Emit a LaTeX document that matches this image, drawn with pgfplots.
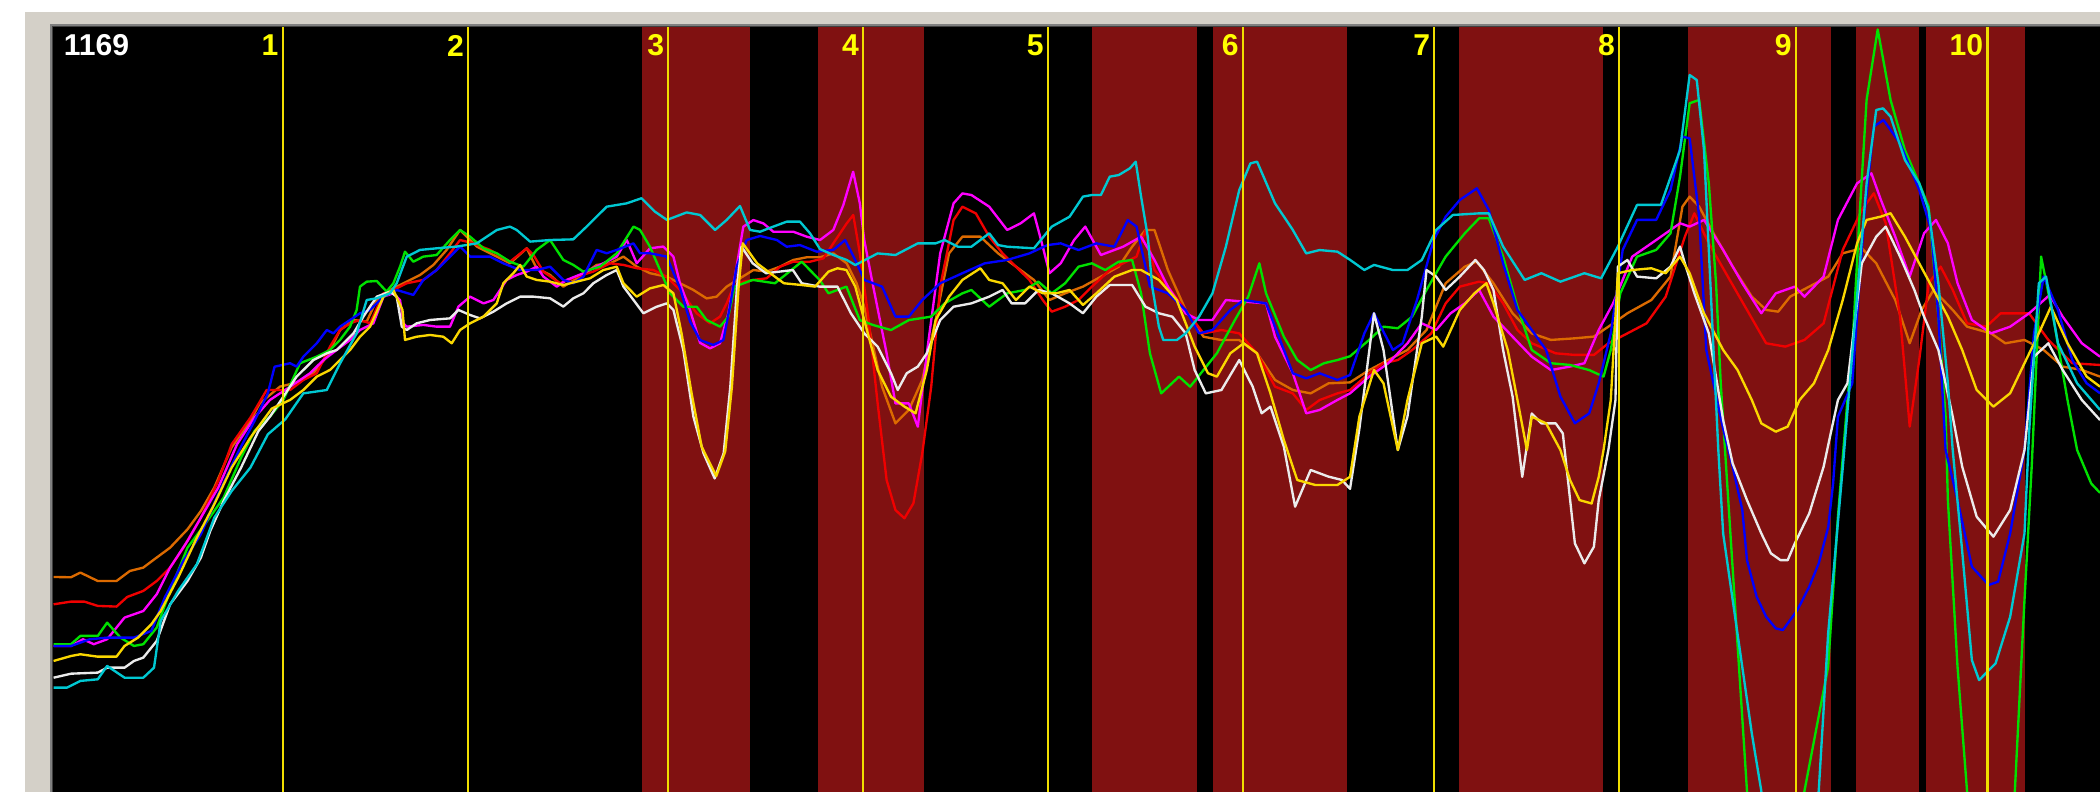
\documentclass[border=0pt]{standalone}
\usepackage{pgfplots}
\pgfplotsset{compat=1.18}
\usepackage{fontspec}
\setmainfont{Liberation Sans}
\definecolor{framegray}{RGB}{212,208,200}
\definecolor{edgeA}{RGB}{128,128,128}
\definecolor{edgeB}{RGB}{64,64,64}
\definecolor{band}{RGB}{128,17,17}
\definecolor{vline}{RGB}{240,222,0}
\definecolor{lab}{RGB}{255,255,0}
\definecolor{corange}{RGB}{220,106,0}
\definecolor{cred}{RGB}{240,0,0}
\definecolor{cmag}{RGB}{255,0,255}
\definecolor{cgreen}{RGB}{0,225,0}
\definecolor{cblue}{RGB}{0,0,255}
\definecolor{cyellow}{RGB}{250,215,0}
\definecolor{cwhite}{RGB}{235,235,235}
\definecolor{ccyan}{RGB}{0,200,210}
\begin{document}
\begin{tikzpicture}
\begin{axis}[
  scale only axis, width=15.68cm, height=5.91cm,
  xmin=0, xmax=1568, ymin=0, ymax=591, y dir=reverse,
  axis lines=none, ticks=none, clip=true,
  every axis plot/.append style={line join=round},
]
% frame and background
\addplot[fill=white, draw=none] coordinates {(0,0) (1568,0) (1568,591) (0,591)} -- cycle;
\addplot[fill=framegray, draw=none] coordinates {(18.7,9.2) (1568,9.2) (1568,591) (18.7,591)} -- cycle;
\addplot[fill=edgeA, draw=none] coordinates {(37.3,17.9) (1568,17.9) (1568,591) (37.3,591)} -- cycle;
\addplot[fill=edgeB, draw=none] coordinates {(38.5,19.2) (1568,19.2) (1568,591) (38.5,591)} -- cycle;
\addplot[fill=black, draw=none] coordinates {(39.6,20.5) (1568,20.5) (1568,591) (39.6,591)} -- cycle;
% red bands
\addplot[fill=band, draw=none] coordinates {(479,20.5) (560,20.5) (560,591) (479,591)} -- cycle;
\addplot[fill=band, draw=none] coordinates {(611,20.5) (690,20.5) (690,591) (611,591)} -- cycle;
\addplot[fill=band, draw=none] coordinates {(815,20.5) (894,20.5) (894,591) (815,591)} -- cycle;
\addplot[fill=band, draw=none] coordinates {(906,20.5) (1006,20.5) (1006,591) (906,591)} -- cycle;
\addplot[fill=band, draw=none] coordinates {(1089,20.5) (1197,20.5) (1197,591) (1089,591)} -- cycle;
\addplot[fill=band, draw=none] coordinates {(1260,20.5) (1367,20.5) (1367,591) (1260,591)} -- cycle;
\addplot[fill=band, draw=none] coordinates {(1386,20.5) (1433,20.5) (1433,591) (1386,591)} -- cycle;
\addplot[fill=band, draw=none] coordinates {(1438,20.5) (1512,20.5) (1512,591) (1438,591)} -- cycle;

% orange
\addplot[corange, line width=0.5pt] coordinates {
(40,430.8) (53,431) (60,427.5) (73,433.8) (87,433.8) (97,426.3) (107,423.8) (117,416.3) (127,408.9) (140,395.2) (150,381.5) (160,364) (173,334) (187,314) (194,301.1) (209,288.7) (224,285) (234,278.7) (244,266.3) (253.9,246.4) (263.9,238.9) (273.8,240.1) (281.3,224) (291.2,216.5) (303.7,210.3) (313.6,205.3) (323.6,197.8) (333.5,186.6) (343.5,171.7) (348.5,176.7) (356,184.1) (365.9,189.1) (380.8,196.6) (393.3,185.4) (400.7,200.3) (410.7,205.3) (420.6,214) (433.1,206.5) (445.5,197.8) (455.5,196.6) (465.5,191.6) (475.4,199.1) (485.3,204) (497.8,206.6) (507.7,211.5) (517.7,216.5) (527.6,222.8) (535.1,221.5) (542.6,214) (552.5,207.8) (562.5,201.6) (572.4,202.8) (582.4,199.1) (592.3,194.1) (602.3,192.1) (612.3,192.1) (622.2,189.2) (632.2,196.6) (639.6,211.5) (645.3,229) (652,258.8) (658.6,288.7) (668.6,316.1) (678.6,306.1) (688.6,283.7) (698.6,239) (708.6,189.2) (718.6,176.7) (732,176.7) (745.3,189.2) (758.6,199.1) (772,209) (783.6,224) (795.3,219) (808.6,214) (822,206.6) (835.3,199.1) (845.3,184.2) (855.3,171.7) (862,171.7) (872,201.6) (885.3,231.5) (898.6,251.4) (912,253.9) (925.3,253.9) (938.6,263.8) (952,283.7) (965.3,291.2) (978.6,293.7) (992,286.2) (1008,285.5) (1022.3,276.3) (1036.6,268.8) (1050.9,261.3) (1065.1,246.4) (1079.4,211.5) (1093.7,199.1) (1102.6,195.3) (1115.1,211.5) (1129.4,233.9) (1143.7,248.9) (1158,253.8) (1175.9,252.6) (1190.1,251.3) (1200.9,243.9) (1215.1,233.9) (1233,224) (1247.3,206.5) (1256.2,154.3) (1261.6,146.8) (1268.7,154.3) (1279.4,174.2) (1293.7,199.1) (1308,221.5) (1318.7,231.4) (1327.7,232.7) (1336.6,221.5) (1350.9,214) (1365.1,206.5) (1375.9,189.1) (1390.1,185.4) (1400.9,196.6) (1415.1,224) (1425.9,256.3) (1434.8,231.4) (1443.7,216.5) (1458,231.4) (1468.7,243.9) (1486.6,248.9) (1497.3,256.3) (1511.6,253.8) (1525.9,261.3) (1540.1,273.7) (1554.4,276.2) (1568,281.2)
};
% red
\addplot[cred, line width=0.5pt] coordinates {
(40,451.2) (53,449.2) (63,449.2) (73,452.4) (87,452.9) (95,445.7) (107,441.2) (117,433.8) (127,423.8) (137,408.9) (150,386.5) (163,359) (173,331.7) (187,311.8) (199.1,291.2) (216.6,291.2) (226.5,283.7) (236.5,278.7) (246.4,258.8) (253.9,246.4) (261.4,241.4) (268.8,238.9) (276.3,241.4) (286.3,219) (293.7,216.5) (303.7,211.5) (316.1,209) (326,201.6) (336,189.1) (343.5,179.2) (353.5,181.7) (365.9,186.6) (380.8,195.4) (393.3,185.4) (398.3,190.4) (405.7,202.8) (418.1,211.5) (430.6,206.5) (443,202.8) (455.5,196.6) (465.5,197.8) (475.4,200.3) (487.8,201.6) (497.8,206.6) (507.7,216.5) (520.2,234) (530.1,241.4) (537.6,236.4) (542.6,226.5) (547.6,214) (555,210.3) (562.5,209) (572.4,207.8) (582.4,199.1) (592.3,195.4) (604.8,195.4) (614.8,192.9) (622.2,181.7) (632.2,166.8) (637.1,160.5) (642,189.2) (648.6,239) (655.3,301.2) (662,358.4) (668.6,380.8) (675.3,387) (682,375.8) (688.6,338.5) (695.3,288.7) (702,214) (712,164.3) (718.6,154.3) (728.6,159.3) (738.6,176.7) (748.6,189.2) (758.6,199.1) (768.6,209) (778.6,224) (785.3,232.7) (795.3,229) (805.3,224) (815.3,214) (828.6,201.6) (838.6,196.6) (848.6,191.6) (855.3,171.7) (862,201.6) (872,214) (885.3,231.5) (898.6,248.9) (912,246.4) (925.3,248.9) (938.6,263.8) (952,288.7) (965.3,293.7) (975.3,306.1) (985.3,298.7) (998.6,293.7) (1008,291.2) (1022.3,278.7) (1033,271.2) (1043.7,268.8) (1054.4,261.3) (1068.7,248.9) (1079.4,226.5) (1090,214) (1104.4,210.3) (1111.6,211.5) (1122.3,226.5) (1133,246.4) (1143.7,256.3) (1161.6,263.8) (1175.9,265) (1190.1,265) (1200.9,256.3) (1215.1,248.9) (1229.4,241.4) (1243.7,221.5) (1258,176.7) (1265.1,159.3) (1275.9,181.7) (1290.1,206.5) (1304.4,231.4) (1318.7,256.3) (1333,258.8) (1347.3,253.8) (1361.6,241.4) (1375.9,186.6) (1390.1,156.8) (1399.1,144.3) (1408,166.7) (1418.7,236.4) (1425.9,318.5) (1433,268.8) (1440.1,211.5) (1449,199.1) (1458,216.5) (1468.7,241.4) (1483,243.9) (1493.7,234) (1515.1,234) (1529.4,253.8) (1547.3,271.2) (1568,272.5)
};
% magenta
\addplot[cmag, line width=0.5pt] coordinates {
(40,482.3) (53,482.3) (62,477.3) (70,481) (80,477.3) (93,461.1) (107,456.2) (117,443.7) (127,423.8) (140,403.9) (150,386.5) (163,364) (177,331.7) (190,311.8) (201.6,298.6) (216.6,288.7) (231.5,278.7) (241.5,268.8) (251.4,261.3) (261.4,253.8) (268.8,246.4) (278.8,241.4) (286.3,221.5) (293.7,219) (298.7,224) (301.2,241.4) (303.7,243.9) (316.1,242.6) (326,243.9) (336,243.9) (342.3,228.9) (351,221.5) (361,226.5) (368.4,224) (378.3,209) (385.8,205.3) (393.3,202.8) (400.7,199.1) (405.7,206.5) (415.7,214) (423.1,209) (435.6,204) (448,197.8) (460.5,191.6) (468,179.2) (475.4,196.6) (485.3,185.4) (495.3,184.1) (502.8,191.6) (507.7,211.5) (515.2,231.4) (522.7,256) (530.1,260.1) (537.6,256.3) (543.8,234) (550,199.1) (555,169.2) (562.5,164.3) (570,166.8) (577.4,173) (592.3,173) (602.3,176.7) (612.3,179.2) (622.2,171.7) (629.7,153) (637,128.2) (642,151.8) (645.3,179.2) (652,214) (662,263.8) (668.6,301.2) (678.6,301.2) (685.3,318.6) (692,263.8) (702,189.2) (712,151.8) (718.6,144.4) (725.3,145.6) (738.6,154.3) (752,171.7) (762,166.8) (772,159.3) (778.6,184.2) (783.6,204) (792,196.6) (802,179.2) (810.3,169.2) (822,190.4) (838.6,184.2) (852,176.7) (862,194.1) (872,214) (885.3,234) (895.3,238.9) (905.3,238.9) (915.3,224) (928.6,225.2) (945.3,226.5) (952,251.4) (965.3,278.7) (975.3,308.6) (985.3,306.1) (998.6,298.6) (1008,293.7) (1022.3,281.2) (1036.6,271.2) (1050.9,256.3) (1061.6,241.4) (1072.3,246.4) (1083,234) (1093.7,226.5) (1104.4,216.5) (1115.1,236.4) (1129.4,251.4) (1143.7,266.3) (1158,276.3) (1172.3,273.7) (1183,271.2) (1193.7,246.4) (1204.4,226.5) (1218.7,191.6) (1236.6,179.2) (1254.4,166.7) (1261.6,169.2) (1272.3,164.2) (1286.6,186.6) (1300.9,211.5) (1315.1,233.9) (1325.9,219) (1340.1,214) (1347.3,221.5) (1361.6,206.5) (1372.3,164.2) (1386.6,136.9) (1397.3,129.4) (1404.4,149.3) (1415.1,176.7) (1425.9,206.5) (1436.6,174.2) (1445.5,164.2) (1454.4,181.7) (1461.6,211.5) (1472.3,238.9) (1486.6,248.9) (1500.9,243.9) (1515.1,233.9) (1530.4,220.2) (1540.1,236.4) (1554.4,256.3) (1568,266.3)
};
% green
\addplot[cgreen, line width=0.5pt] coordinates {
(40,481) (53,481) (60,474.8) (73,474.8) (80,464.9) (90,476.1) (100,482.3) (107,481) (117,468.6) (127,441.2) (140,408.9) (153,391.5) (167,371.5) (180,341.7) (190,321.8) (201.6,311) (211.6,298.6) (224,271.2) (236.5,266.3) (246.4,261.3) (253.9,253.8) (261.4,243.9) (266.3,231.4) (268.8,214) (273.8,210.3) (281.3,209.8) (288.7,217.7) (293.7,211.5) (298.7,199.1) (302.4,187.9) (308.6,195.4) (316.1,191.6) (326,190.4) (336,179.2) (343.5,171.7) (351,176.7) (361,185.4) (370.9,189.1) (380.8,195.4) (390.8,199.1) (400.7,186.6) (410.7,179.2) (420.6,194.1) (428.1,197.8) (435.6,202.8) (448,199.1) (460.5,189.1) (473,169.2) (477.9,171.7) (485.3,184.2) (492.8,201.6) (500.3,219) (510.2,229) (520.2,229) (527.6,238.9) (537.6,243.9) (543.8,236.4) (548.6,214) (562,209) (578.6,211.5) (598.6,195.4) (612,209) (618.6,219) (632,214) (642,239) (652,242.7) (665.3,246.4) (678.6,239) (695.3,236.4) (705.3,226.5) (718.6,219) (725.3,216.5) (738.6,229) (752,219) (765.3,216.5) (775.3,210.3) (785.3,219) (795.3,211.5) (805.3,199.1) (815.3,196.6) (825.3,201.6) (835.3,195.4) (845.3,194.1) (852,219) (858.6,263.8) (867,293.7) (880.3,281.2) (888.6,288.7) (898.6,276.3) (908.6,263.8) (922,239) (932,221.5) (940.3,196.6) (945.3,219) (958.6,251.4) (968.6,268.8) (978.6,276.3) (988.6,271.2) (998.6,268.8) (1008,266) (1022.3,253.8) (1033,243.9) (1043.7,245.1) (1054.4,236.4) (1065.1,216.5) (1079.4,191.6) (1093.7,174.2) (1104.4,163) (1111.6,163) (1122.3,191.6) (1133,229) (1143.7,261.3) (1158,271.2) (1172.3,272.5) (1186.6,276.3) (1197.3,281.2) (1202.7,261.3) (1209.8,219) (1222.3,191.6) (1236.6,186.6) (1247.3,174.2) (1254.4,131.9) (1261.6,77.1) (1268.7,74.6) (1275.9,136.9) (1281.3,211.5) (1284.8,286.2) (1304.4,590.6) (1310,640) (1340,640) (1347.3,590.6) (1365,497.8) (1372.3,385.8) (1379.4,298.7) (1383,261.3) (1388.4,161.8) (1393.7,74.6) (1402,22) (1411.6,74.6) (1422.3,112) (1433,136.9) (1440,154.3) (1447.3,236.4) (1452.7,311) (1454.4,373.4) (1461.6,497.8) (1468.7,590.6) (1475,640) (1500,640) (1504.4,590.6) (1511.6,448) (1517,348) (1524,191.6) (1533,236.4) (1543.7,298.6) (1550.9,336) (1561.4,361) (1568,368)
};
% blue
\addplot[cblue, line width=0.5pt] coordinates {
(40,482.3) (53,482.3) (67,477.3) (80,476.1) (100,476.1) (113,471.1) (123,446.2) (137,418.8) (150,398.9) (163,369) (177,339.2) (190,314.3) (200,293.7) (205,273.8) (216.6,271.2) (221.5,273.7) (226.5,266.3) (236.5,256.3) (244,246.4) (249,248.9) (253.9,243.9) (261.4,238.9) (268.8,233.9) (276.3,231.4) (286.3,221.5) (296.2,216.5) (308.6,220.2) (316.1,209) (326,201.6) (336,191.6) (343.5,184.1) (351,191.6) (365.9,191.6) (375.8,196.6) (388.3,201.6) (400.7,201.6) (410.7,199.1) (420.6,209) (428.1,211.5) (435.6,206.5) (445.5,186.6) (453,189.1) (460.5,186.6) (473,181.7) (477.9,189.1) (485.3,189.1) (497.8,191.6) (507.7,215) (515.2,240) (522.7,253.9) (532.6,257.6) (540.1,253.9) (545,229) (550,199.1) (557.5,179.2) (567.5,176.2) (580,179.2) (587.4,184.2) (597.3,183) (609.8,187.9) (622.2,186.6) (631,179.2) (638.6,194.1) (645.3,209) (658.6,214) (668.6,236.4) (678.6,236.4) (688.6,224) (702,211.5) (718.6,204) (735.3,196.6) (752,194.1) (768.6,189.2) (782,183) (792,181.7) (805.3,186.7) (818.6,181.7) (832,184.2) (842,164.3) (848.6,169.2) (858.6,214) (872,219) (885.3,231.5) (895.3,248.9) (905.3,246.4) (918.6,231.5) (928.6,224) (945.3,226.5) (952,243.9) (965.3,278.7) (975.3,282.5) (985.3,278.7) (998.6,283.7) (1008,280) (1018.7,248.9) (1025.9,233.9) (1040,261.3) (1047.3,256.3) (1058,224) (1070.5,179.2) (1079.4,161.8) (1090,149.3) (1102.7,140.6) (1111.6,156.8) (1122.3,196.6) (1133,231.4) (1143.7,246.4) (1154.4,261.3) (1165.1,296.1) (1175.9,316) (1186.6,308.6) (1193.7,286.2) (1202.7,248.9) (1211.6,186.6) (1222.3,164.2) (1236.6,164.2) (1247.3,141.8) (1256.2,102) (1261.6,103.3) (1268.7,161.8) (1274,261.3) (1286.6,320) (1293.7,348.5) (1300.9,380.8) (1304.4,418.2) (1311.6,445.5) (1318.7,460.5) (1325.9,469.2) (1331.2,470.4) (1336.6,463) (1342,455.5) (1350.9,438) (1358,420.6) (1365.1,393.3) (1368.7,360.9) (1372.3,311.1) (1383,286.2) (1391.9,161.8) (1399.1,94.5) (1406.3,89.6) (1418.7,107) (1433,141.8) (1441.9,171.7) (1447.3,236.4) (1452.7,336) (1461.6,373.4) (1472.3,423.1) (1484.8,436.8) (1491.9,434.3) (1500.9,398.3) (1511.6,336) (1518.7,248.9) (1525.9,206.5) (1536.6,231.4) (1547.3,268.8) (1558,286.2) (1568,293.6)
};
% white
\addplot[cwhite, line width=0.5pt] coordinates {
(40,506) (53,503) (73,502.2) (80,498.5) (93,498.5) (100,493.5) (107,491) (117,478.6) (127,451.2) (140,433.8) (150,416.3) (157,396.4) (167,374) (180,349.1) (193,321.8) (201.6,311) (211.6,296.1) (221.5,281.2) (234,268.8) (244,263.8) (251.4,261.3) (258.9,253.8) (263.9,248.9) (271.3,236.4) (281.3,221.5) (291.2,217.7) (296.2,221.5) (300,243.9) (303.7,246.4) (311.1,241.4) (321.1,238.9) (336,237.7) (342.3,231.4) (351,235.2) (358.4,237.7) (368.4,232.7) (378.3,226.5) (388.3,221.5) (398.3,221.5) (410.7,222.7) (420.6,228.9) (428.1,222.7) (435.6,219) (443,211.5) (453,205.3) (460.5,201.6) (465.5,214) (473,224) (480.4,233.9) (490.3,229) (497.8,226.5) (502.8,231.4) (510.2,261.3) (517.7,311) (525.3,338.5) (533.6,357.2) (540.3,338.5) (545.3,288.7) (550.3,214) (553.6,184.2) (562,196.6) (572,204) (582,202.8) (592,201.6) (598.6,211.5) (612,214) (625.3,214) (635.3,233.9) (645.3,248.9) (655.3,258.8) (665.3,278.7) (670.3,291.2) (677,278.7) (685.3,273.7) (692,263.8) (702,239) (712,229) (725.3,226.5) (738.6,221.5) (748.6,216.5) (755.3,226.5) (765.3,226.5) (775.3,216.5) (785.3,219) (798.6,226.5) (808.6,233.9) (818.6,221.5) (828.6,212.8) (845.3,212.8) (855.3,229) (865.3,233.9) (875.3,236.4) (885.3,248.9) (892,276.3) (900.3,293.7) (912,291.2) (925.3,268.8) (935.3,288.7) (942,308.6) (948.6,303.6) (958.6,333.5) (967,378.3) (978.6,350.9) (992,355.9) (1002,358.4) (1008,365) (1015,320) (1025.9,233.9) (1033,261.3) (1043.7,336) (1050.9,311) (1061.6,236.4) (1065.1,201.6) (1072.3,206.5) (1079.4,216.5) (1090,206.5) (1101.6,194.1) (1108,201.6) (1115.1,216.5) (1122.3,261.3) (1129.4,296.1) (1136.6,356) (1143.7,308.7) (1150.9,316.1) (1161.6,316.1) (1166.9,323.6) (1175.9,405.7) (1183,420.6) (1190.1,408.2) (1193.7,373.4) (1200.9,336) (1206.2,298.7) (1208,199.1) (1215.1,194.1) (1222.3,206.5) (1236.6,207.8) (1247.3,199.1) (1254.4,184.1) (1258,196.6) (1265.1,219) (1275.9,248.9) (1286.6,313.6) (1293.7,346) (1304.4,373.4) (1315.1,398.3) (1322.3,413.2) (1329.4,418.2) (1334.8,418.2) (1340.1,405.7) (1350.9,383.3) (1361.6,348.5) (1366.9,323.6) (1372.3,298.7) (1379.4,286.2) (1390.1,196.6) (1400.9,176.7) (1408,169.2) (1418.7,191.6) (1429.4,216.5) (1436.6,236.4) (1447.3,261.3) (1458,311) (1465.1,348.5) (1475.9,385.8) (1488.4,400.7) (1500.9,380.8) (1511.6,336) (1518.7,266.3) (1529.4,256.3) (1540.1,276.2) (1554.4,298.6) (1568,313.6)
};
% yellow
\addplot[cyellow, line width=0.5pt] coordinates {
(40,493.5) (53,489.8) (60,488.5) (73,490.3) (87,490.3) (93,482.3) (103,476.1) (113,466.1) (120,456.2) (133,431.3) (147,401.4) (160,376.5) (173,349.1) (187,326.7) (203,305) (216.6,298.6) (226.5,291.2) (236.5,281.2) (246.4,276.2) (253.9,268.8) (261.4,261.3) (268.8,251.4) (276.3,243.9) (286.3,221.5) (293.7,216.5) (300.5,231.4) (302.4,253.8) (311.1,251.4) (321.1,250.1) (331,251.4) (337.3,256.3) (343.5,246.4) (351,241.4) (361,236.4) (370.9,226.5) (375.8,211.5) (383.3,204) (388.3,197.8) (393.3,206.5) (400.7,209) (410.7,210.3) (420.6,212.8) (430.6,210.3) (440.5,207.8) (450.5,201.6) (460.5,199.1) (465.5,211.5) (475.4,221.5) (485.3,215.3) (495.3,212.8) (502.8,219) (508.9,248.9) (516.4,293.7) (523.9,333.5) (534.8,355.5) (541.5,337) (546.5,288.7) (551.5,214) (554.6,181.7) (565.3,196.6) (578.6,206.6) (585.3,211.5) (598.6,212.8) (608.6,214) (618.6,202.8) (625.3,200.3) (632,201.6) (638.6,214) (645.3,239) (655.3,276.3) (665.3,296.2) (675.3,303.6) (683.6,308.6) (692,276.3) (698.6,239) (708.6,221.5) (718.6,209) (732,200.3) (738.6,209) (748.6,211.5) (758.6,224) (768.6,214) (778.6,219) (788.6,219) (798.6,216.5) (808.6,227.7) (818.6,219) (832,206.6) (845.3,201.6) (852,201.6) (865.3,209) (878.6,224) (892,258.8) (902,278.7) (908.6,281.2) (918.6,263.8) (928.6,256.3) (938.6,263.8) (948.6,293.7) (958.6,328.5) (968.6,358.4) (982,362.1) (998.6,362.1) (1008,356) (1015,311) (1025.9,276.2) (1033,286.2) (1043.7,336) (1050.9,298.6) (1061.6,256.3) (1072.3,251.3) (1077.6,258.8) (1090,231.4) (1100.9,219) (1109.8,211.5) (1115.1,226.5) (1125.8,261.3) (1133,298.6) (1140.1,336) (1143.7,311.1) (1154.4,316.1) (1165.1,336) (1172.3,358.4) (1179.4,373.4) (1188.4,375.9) (1193.7,356) (1197.3,336) (1202.7,298.7) (1208,204) (1218.7,201.6) (1233,200.3) (1243.7,204) (1254.4,191.6) (1261.6,204) (1272.3,233.9) (1286.6,261.3) (1297.3,276.2) (1308,298.6) (1315.1,316.1) (1325.9,322.3) (1334.8,318.5) (1343.7,298.6) (1354.4,286.2) (1365.1,261.3) (1375.9,224) (1386.6,181.7) (1393.7,164.2) (1404.4,161.7) (1411.6,159.2) (1422.3,176.7) (1433,196.6) (1443.7,216.5) (1454.4,236.4) (1465.1,261.3) (1475.9,291.2) (1488.4,303.6) (1500.9,293.6) (1511.6,271.2) (1522.3,248.9) (1531.3,229) (1543.7,256.3) (1558,281.2) (1568,288.7)
};
% cyan
\addplot[ccyan, line width=0.5pt] coordinates {
(40,513.4) (50,513.4) (60,508.4) (73,507.2) (80,497.2) (93,506) (107,506) (115,498.5) (120,463.6) (133,441.2) (147,421.3) (160,386.5) (173,366.6) (187,349.1) (200,324.3) (213,313.1) (226.5,293.7) (244,291.2) (254,271.2) (266.3,248.9) (273.8,224) (281.3,222.7) (291.2,219) (296.2,211.5) (303.7,191.6) (313.6,186.6) (326,185.4) (341,184.1) (356,181.7) (371,171.7) (380.8,169.2) (385.8,171.7) (395.8,180.4) (410.7,179.2) (428,178.7) (438,169.2) (453,154.3) (468,151.8) (479,148) (489,158) (498,164.2) (512.7,158.6) (522.7,160.5) (533.9,171.7) (542.6,164.2) (552.5,153.8) (560,171.7) (567.5,173) (577.4,169.2) (587.4,165.5) (597.3,165.5) (604.8,174.2) (612.3,186) (622.2,190.4) (632.2,194.1) (638.6,197.9) (655.3,189.2) (668.6,190.4) (685.3,181.7) (698.6,181.7) (705.3,179.2) (715.3,184.2) (725.3,184.2) (738.6,174.2) (745.3,183) (752,184.2) (772,185.4) (785.3,169.2) (798.6,161.8) (808.6,146.8) (815.3,145.6) (822,145.6) (828.6,131.9) (835.3,130.7) (843.6,125.7) (848,120.7) (852,146.8) (857,176.7) (860.3,214) (865.3,243.9) (868.6,253.9) (878.6,253.9) (885.3,248.9) (895.3,236.4) (905.3,219) (915.3,184.2) (925.3,141.9) (933.6,122) (938.6,120.7) (952,151.8) (965.3,171.7) (975.3,189.2) (985.3,186.7) (998.6,187.9) (1008,194) (1018.7,201.6) (1025.9,197.8) (1040,201.6) (1050.9,201.6) (1061.6,194.1) (1072.3,171.7) (1084.8,160.5) (1104.4,159.3) (1111.6,159.3) (1122.3,184.1) (1138.4,209) (1150.9,204) (1165.1,210.3) (1183,204) (1195.5,207.8) (1208,184.1) (1222.3,153) (1240.1,153) (1254.4,112) (1261.6,56) (1266.9,59.7) (1272.3,112) (1275.9,186.6) (1279.4,261.3) (1283,336) (1286.6,398.3) (1297.3,473) (1308,547.6) (1315,590) (1320,640) (1352,640) (1358,590) (1365,473) (1376,348) (1385,240) (1393.7,136.9) (1400.9,82.1) (1406,80.9) (1411.6,87.1) (1422.3,119.4) (1433,136.9) (1440,156.8) (1447.3,211.5) (1454.4,286.2) (1458,336) (1465,410.7) (1472.3,492.8) (1477.7,507.8) (1490,495.3) (1500.9,460.5) (1511.6,398.3) (1515,323.6) (1522.3,211.5) (1527.7,206.5) (1536.6,256.3) (1550.9,286.2) (1568,306)
};

% vertical marker lines
\addplot[vline, line width=0.45pt] coordinates {(211,20.5) (211,591)};
\addplot[vline, line width=0.45pt] coordinates {(349.5,20.5) (349.5,591)};
\addplot[vline, line width=0.45pt] coordinates {(499,20.5) (499,591)};
\addplot[vline, line width=0.45pt] coordinates {(644.5,20.5) (644.5,591)};
\addplot[vline, line width=0.45pt] coordinates {(782.5,20.5) (782.5,591)};
\addplot[vline, line width=0.45pt] coordinates {(928,20.5) (928,591)};
\addplot[vline, line width=0.45pt] coordinates {(1071,20.5) (1071,591)};
\addplot[vline, line width=0.45pt] coordinates {(1209,20.5) (1209,591)};
\addplot[vline, line width=0.45pt] coordinates {(1341,20.5) (1341,591)};
\addplot[vline, line width=0.45pt] coordinates {(1484,20.5) (1484,591)};

% labels
\tikzset{lbl/.style={anchor=east, inner sep=0pt, text=lab, font=\fontsize{6.4}{7.5}\selectfont\bfseries}}
\node[anchor=west, inner sep=0pt, text=white, font=\fontsize{6.4}{7.5}\selectfont\bfseries] at (axis cs:47,34) {1169};
\node[lbl] at (axis cs:208.5,34) {1};
\node[lbl] at (axis cs:347,34) {2};
\node[lbl] at (axis cs:496.5,34) {3};
\node[lbl] at (axis cs:642,34) {4};
\node[lbl] at (axis cs:780,34) {5};
\node[lbl] at (axis cs:925.5,34) {6};
\node[lbl] at (axis cs:1068.5,34) {7};
\node[lbl] at (axis cs:1206.5,34) {8};
\node[lbl] at (axis cs:1338.5,34) {9};
\node[lbl] at (axis cs:1481.5,34) {10};
\end{axis}
\end{tikzpicture}
\end{document}
